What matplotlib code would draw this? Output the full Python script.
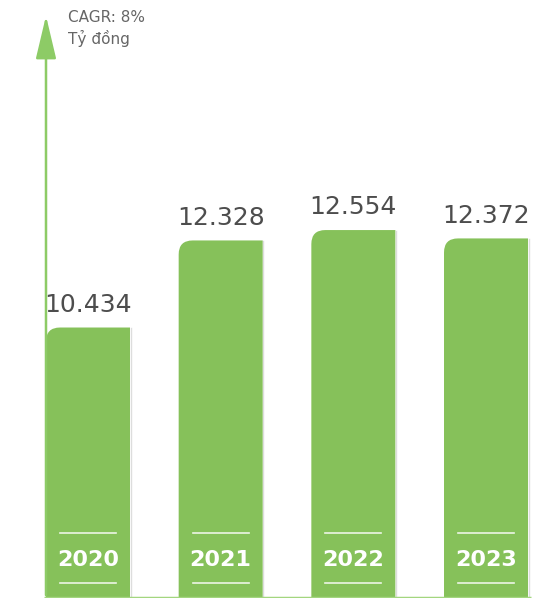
import matplotlib
matplotlib.use("Agg")
import matplotlib.pyplot as plt
from matplotlib.path import Path
from matplotlib.patches import PathPatch, FancyArrowPatch
import matplotlib.transforms as mtransforms

years = ["2020", "2021", "2022", "2023"]
values = [10.434, 12.328, 12.554, 12.372]
value_labels = ["10.434", "12.328", "12.554", "12.372"]
unit_lines = ["CAGR: 8%", "Tỷ đồng"]

GREEN = "#86C15A"
AXIS_GREEN = "#8DCB66"
TEXT_GRAY = "#4d4d4d"

W, H, DPI = 547, 601, 100
fig = plt.figure(figsize=(W / DPI, H / DPI), dpi=DPI)
fig.patch.set_facecolor("white")

base = 4.55
px_per_unit_y = 45.97
px_per_unit_x = 132.67
bottom_px = 3
ax = fig.add_axes([0, bottom_px / H, 1, (H - bottom_px) / H])
ax.set_xlim(-88 / px_per_unit_x, (W - 88) / px_per_unit_x)
ax.set_ylim(base, base + (H - bottom_px) / px_per_unit_y)
ax.axis("off")

bar_w = 84 / px_per_unit_x
rx = 14 / px_per_unit_x
ry = 14 / px_per_unit_y

xs = list(range(len(years)))
bars = ax.bar(xs, [v - base for v in values], bottom=base, width=bar_w, color="none")

for b, v, lab, yr in zip(bars, values, value_labels, years):
    x0 = b.get_x()
    x1 = x0 + b.get_width()
    y0 = b.get_y()
    y1 = y0 + b.get_height()
    verts = [(x0, y0), (x1, y0), (x1, y1), (x0 + rx, y1), (x0, y1), (x0, y1 - ry), (x0, y0)]
    codes = [Path.MOVETO, Path.LINETO, Path.LINETO, Path.LINETO, Path.CURVE3, Path.CURVE3, Path.CLOSEPOLY]
    ax.add_patch(PathPatch(Path(verts, codes), facecolor=GREEN, edgecolor="none", zorder=3))
    # subtle right shadow
    ax.plot([x1 + 0.004, x1 + 0.004], [y0, y1 - 0.02], color="#dddddd", lw=1.0, zorder=2)
    xc = x0 + b.get_width() / 2
    ax.annotate(lab, xy=(xc, v), xytext=(0, 16.5), textcoords="offset points",
                ha="center", va="center", fontsize=18, color=TEXT_GRAY, zorder=5)
    trans = mtransforms.blended_transform_factory(ax.transData, ax.transAxes)
    ax.text(xc, 38 / (H - bottom_px), yr, transform=trans, ha="center", va="center",
            fontsize=16, fontweight="bold", color="white", zorder=5)
    half = 28 / px_per_unit_x
    for yy in (65, 15):
        ax.plot([xc - half, xc + half], [yy / (H - bottom_px)] * 2, transform=trans,
                color="white", lw=1.2, alpha=0.85, zorder=5)

# baseline
ax.plot([-44 / px_per_unit_x, (531 - 88) / px_per_unit_x], [base, base],
        color="#a3d67f", lw=2.5, zorder=4, solid_capstyle="butt")

# vertical arrow axis (figure pixel coords)
ax_x = 46
arrow = FancyArrowPatch((ax_x / W, 1 - 598 / H), (ax_x / W, 1 - 13 / H),
                        transform=fig.transFigure, arrowstyle="-|>,head_length=1.9,head_width=0.45",
                        color=AXIS_GREEN, lw=1.8, mutation_scale=14, zorder=6)
fig.add_artist(arrow)

fig.text(68 / W, 1 - 17 / H, unit_lines[0], ha="left", va="center", fontsize=11, color="#666666")
fig.text(68 / W, 1 - 38 / H, unit_lines[1], ha="left", va="center", fontsize=11, color="#666666")

fig.savefig("out.png", dpi=DPI, facecolor="white")
